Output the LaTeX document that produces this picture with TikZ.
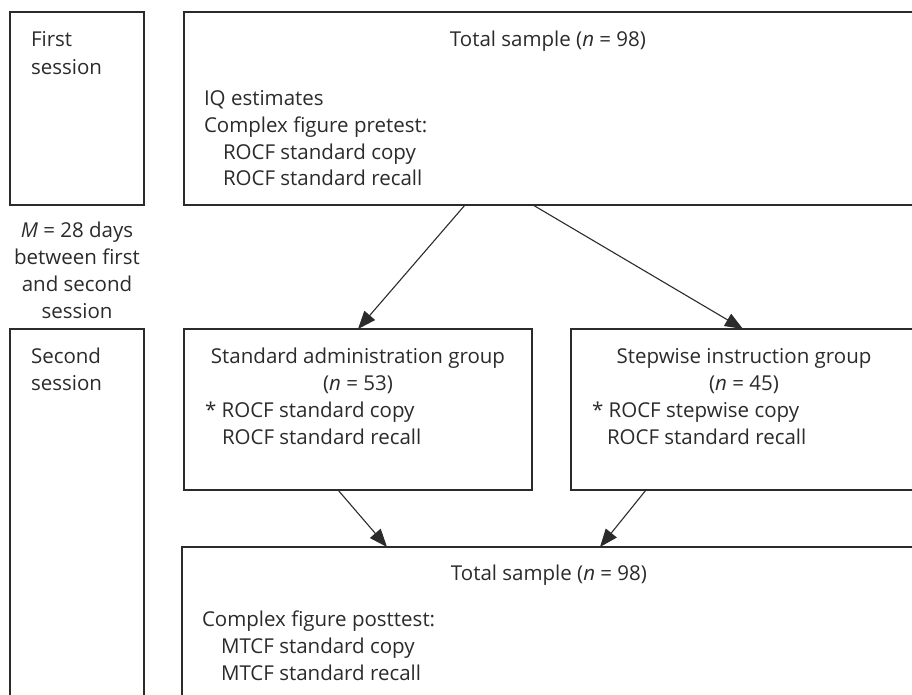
\documentclass[tikz,border=0pt]{standalone}
\usepackage{fontspec}
\setmainfont{Open Sans}
\usetikzlibrary{arrows.meta}
\definecolor{ink}{HTML}{2B2B2B}
\tikzset{
  box/.style={draw=ink, line width=1.2pt, inner sep=0pt, outer sep=0pt, anchor=north west},
  txt/.style={text=ink, inner sep=0pt, outer sep=0pt, anchor=base west, font=\fontsize{20.5}{27}\selectfont},
  ctxt/.style={txt, anchor=base},
  arr/.style={draw=ink, line width=1.1pt, -{Triangle[length=18pt,width=14pt]}}
}
\begin{document}
\begin{tikzpicture}[x=1pt,y=-1pt]
\useasboundingbox (0,0) rectangle (912,694);
\clip (0,0) rectangle (912,694);
% boxes
\node[box, minimum width=134pt, minimum height=193pt] (first) at (10,12) {};
\node[box, minimum width=740pt, minimum height=193pt] (top) at (184,12) {};
\node[box, minimum width=134pt, minimum height=400pt] (second) at (10,329) {};
\node[box, minimum width=348pt, minimum height=161pt] (std) at (184,329) {};
\node[box, minimum width=346pt, minimum height=161pt] (step) at (571,329) {};
\node[box, minimum width=734pt, minimum height=200pt] (bot) at (182,547) {};
% texts: first session
\node[txt] (f1) at (31,46) {First};
\node[txt] (f2) at (31,74) {session};
% top box
\node[ctxt] (t0) at (548,46) {Total sample (\textit{n} = 98)};
\node[txt] (t1) at (204,105) {IQ estimates};
\node[txt] (t2) at (204,132) {Complex figure pretest:};
\node[txt] (t3) at (223,159) {ROCF standard copy};
\node[txt] (t4) at (223,185) {ROCF standard recall};
% interval
\node[ctxt] (m1) at (77,237) {\textit{M} = 28 days};
\node[ctxt] (m2) at (77,264) {between first};
\node[ctxt] (m3) at (77,291) {and second};
\node[ctxt] (m4) at (77,318) {session};
% second session
\node[txt] (s1) at (31,363) {Second};
\node[txt] (s2) at (31,390) {session};
% standard group
\node[ctxt] (g1) at (358,363) {Standard administration group};
\node[ctxt] (g2) at (358,390) {(\textit{n} = 53)};
\node[txt] (g3) at (205,417) {* ROCF standard copy};
\node[txt] (g4) at (222,444) {ROCF standard recall};
% stepwise group
\node[ctxt] (h1) at (744,363) {Stepwise instruction group};
\node[ctxt] (h2) at (744,390) {(\textit{n} = 45)};
\node[txt] (h3) at (592,417) {* ROCF stepwise copy};
\node[txt] (h4) at (607,444) {ROCF standard recall};
% bottom box
\node[ctxt] (b0) at (549,580) {Total sample (\textit{n} = 98)};
\node[txt] (b1) at (202,626) {Complex figure posttest:};
\node[txt] (b2) at (221,653) {MTCF standard copy};
\node[txt] (b3) at (221,680) {MTCF standard recall};
% arrow end points
\coordinate (a1s) at (465,205);
\coordinate (a1e) at (358,329);
\coordinate (a2s) at (533,205);
\coordinate (a2e) at (743,329);
\coordinate (a3s) at (338,490);
\coordinate (a3e) at (387,547);
\coordinate (a4s) at (646,490);
\coordinate (a4e) at (600,547);
\draw[arr] (a1s) -- (a1e);
\draw[arr] (a2s) -- (a2e);
\draw[arr] (a3s) -- (a3e);
\draw[arr] (a4s) -- (a4e);
\end{tikzpicture}
\end{document}
